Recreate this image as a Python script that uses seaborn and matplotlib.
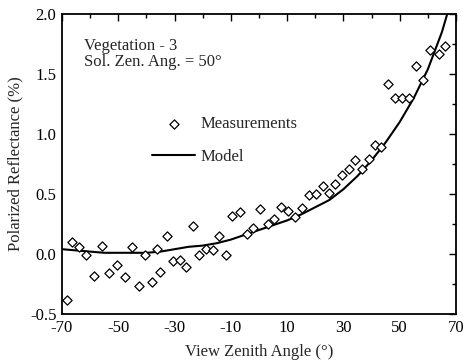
import matplotlib
matplotlib.use("Agg")
import matplotlib.pyplot as plt
import seaborn as sns
import pandas as pd
from matplotlib.ticker import MultipleLocator

# Measured polarized reflectance vs view zenith angle
meas_angle = [-68.3, -66.3, -64.0, -61.5, -58.5, -55.9, -53.2, -50.3, -47.7, -45.2,
              -42.7, -40.4, -37.9, -36.4, -35.2, -32.7, -30.4, -28.2, -25.8, -23.4,
              -21.4, -18.9, -16.5, -14.1, -11.8, -9.5, -6.9, -4.3, -2.1, 0.5,
              3.1, 5.3, 7.7, 10.3, 12.8, 15.2, 17.6, 20.1, 22.6, 24.8,
              27.0, 29.5, 31.9, 34.2, 36.6, 39.0, 41.2, 43.5, 46.0, 48.2,
              50.7, 53.2, 55.9, 58.4, 60.9, 63.9, 66.2]
meas_refl = [-0.38, 0.10, 0.06, -0.01, -0.18, 0.07, -0.16, -0.09, -0.19, 0.06,
             -0.27, -0.01, -0.23, 0.04, -0.15, 0.15, -0.06, -0.05, -0.11, 0.23,
             -0.01, 0.04, 0.03, 0.15, -0.01, 0.32, 0.35, 0.17, 0.22, 0.375,
             0.25, 0.29, 0.39, 0.36, 0.31, 0.38, 0.49, 0.50, 0.57, 0.51,
             0.58, 0.66, 0.71, 0.78, 0.71, 0.79, 0.91, 0.89, 1.42, 1.30,
             1.30, 1.30, 1.57, 1.45, 1.70, 1.67, 1.73]

# Model curve
model_angle = [-70, -65, -60, -55, -50, -45, -40, -35, -30, -25, -20, -15, -10, -5,
               0, 5, 10, 15, 20, 25, 30, 35, 40, 45, 50, 55, 60, 65, 70]
model_refl = [0.04, 0.03, 0.02, 0.01, 0.01, 0.01, 0.01, 0.02, 0.04, 0.06, 0.07, 0.09,
              0.12, 0.16, 0.20, 0.24, 0.28, 0.33, 0.39, 0.45, 0.54, 0.65, 0.78, 0.93,
              1.10, 1.30, 1.54, 1.85, 2.25]

x_ticks = [-70, -50, -30, -10, 10, 30, 50, 70]
y_ticks = [-0.5, 0.0, 0.5, 1.0, 1.5, 2.0]

sns.set_theme(style="white")
plt.rcParams["font.family"] = ["Liberation Serif", "DejaVu Serif"]
plt.rcParams["axes.unicode_minus"] = False

FS = 12

meas = pd.DataFrame({"angle": meas_angle, "refl": meas_refl})
model = pd.DataFrame({"angle": model_angle, "refl": model_refl})

fig = plt.figure(figsize=(4.64, 3.61), dpi=100)
ax = fig.add_axes([0.1336, 0.1302, 0.8492, 0.831])

sns.lineplot(data=model, x="angle", y="refl", ax=ax, color="black", linewidth=1.5,
             label="Model", zorder=2)
sns.scatterplot(data=meas, x="angle", y="refl", ax=ax, marker="D", s=22,
                facecolor="white", edgecolor="black", linewidth=0.9,
                label="Measurements", zorder=3)

ax.set_xlim(-70, 70)
ax.set_ylim(-0.5, 2.0)
ax.set_xticks(x_ticks)
ax.set_yticks(y_ticks)
ax.set_xticklabels([str(t) for t in x_ticks])
ax.set_yticklabels([f"{t:.1f}" for t in y_ticks])
ax.xaxis.set_minor_locator(MultipleLocator(10))
ax.yaxis.set_minor_locator(MultipleLocator(0.25))
ax.tick_params(which="both", direction="in", top=True, right=True, colors="black",
               labelsize=FS, width=1)
ax.tick_params(which="major", length=5, pad=4)
ax.tick_params(which="minor", length=3)
for s in ax.spines.values():
    s.set_color("black")
    s.set_linewidth(1.3)

ax.set_xlabel("View Zenith Angle (°)", fontsize=FS, labelpad=6)
ax.set_ylabel("Polarized Reflectance (%)", fontsize=FS, labelpad=5)

ax.text(0.055, 0.92, "Vegetation - 3\nSol. Zen. Ang. = 50°", transform=ax.transAxes,
        fontsize=FS, va="top", ha="left", linespacing=1.0)

h, l = ax.get_legend_handles_labels()
order = [l.index("Measurements"), l.index("Model")]
ax.legend([h[i] for i in order], [l[i] for i in order], loc="upper left",
          bbox_to_anchor=(0.19, 0.71), frameon=False, fontsize=FS,
          handlelength=2.6, handletextpad=0.3, labelspacing=1.0)

fig.savefig("out.png", dpi=100)
